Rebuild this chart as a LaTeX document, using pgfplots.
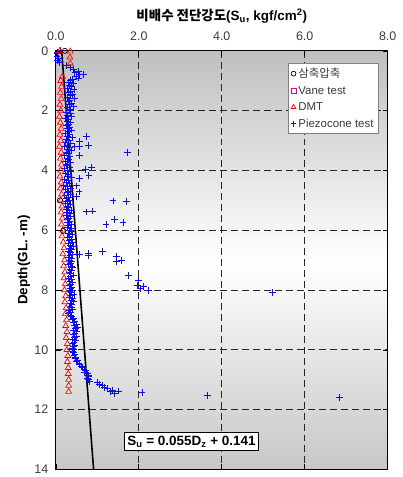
\documentclass[border=0pt]{standalone}
\usepackage{fontspec}
\setmainfont{Liberation Sans}
\newfontfamily\kr{Noto Sans CJK KR}
\usepackage{pgfplots}
\pgfplotsset{compat=1.18}
\usepackage{pgfplotstable}

\definecolor{tickgray}{RGB}{60,60,60}
\definecolor{ptblue}{RGB}{10,10,255}

% depth vs. Su, piezocone
\pgfplotstableread{
su d
0.12 0.00
0.04 0.05
0.05 0.10
0.03 0.18
0.06 0.25
0.05 0.32
0.08 0.40
0.25 0.50
0.35 0.55
0.42 0.63
0.55 0.68
0.46 0.74
0.66 0.80
0.58 0.80
0.50 0.86
0.54 0.91
0.40 0.95
0.36 1.00
0.30 1.05
0.42 1.10
0.33 1.15
0.38 1.20
0.28 1.25
0.44 1.30
0.35 1.35
0.31 1.40
0.40 1.45
0.36 1.50
0.27 1.55
0.45 1.60
0.34 1.65
0.30 1.70
0.39 1.75
0.33 1.80
0.42 1.85
0.29 1.90
0.36 1.95
0.32 2.00
0.26 2.05
0.35 2.10
0.29 2.15
0.38 2.20
0.24 2.25
0.31 2.30
0.27 2.35
0.36 2.40
0.30 2.45
0.25 2.50
0.33 2.55
0.28 2.60
0.37 2.65
0.30 2.70
0.23 2.75
0.34 2.80
0.29 2.85
0.40 2.90
0.26 2.95
0.31 3.00
0.24 3.05
0.35 3.10
0.27 3.15
0.22 3.20
0.33 3.25
0.28 3.30
0.38 3.35
0.25 3.40
0.30 3.45
0.21 3.50
0.34 3.55
0.27 3.60
0.31 3.65
0.23 3.70
0.36 3.75
0.28 3.80
0.25 3.85
0.33 3.90
0.20 3.95
0.29 4.00
0.35 4.05
0.24 4.10
0.31 4.15
0.27 4.20
0.37 4.25
0.22 4.30
0.30 4.35
0.26 4.40
0.33 4.45
0.19 4.50
0.28 4.55
0.35 4.60
0.24 4.65
0.31 4.70
0.27 4.75
0.36 4.80
0.22 4.85
0.30 4.90
0.26 4.95
0.33 5.00
0.27 5.05
0.24 5.10
0.35 5.15
0.29 5.20
0.31 5.25
0.25 5.30
0.38 5.35
0.28 5.40
0.33 5.45
0.26 5.50
0.36 5.55
0.30 5.60
0.27 5.65
0.34 5.70
0.29 5.75
0.37 5.80
0.31 5.85
0.28 5.90
0.35 5.95
0.32 6.00
0.38 6.05
0.30 6.10
0.41 6.15
0.34 6.20
0.29 6.25
0.37 6.30
0.33 6.35
0.40 6.40
0.31 6.45
0.36 6.50
0.42 6.55
0.33 6.60
0.38 6.65
0.30 6.70
0.35 6.75
0.40 6.80
0.34 6.85
0.31 6.90
0.37 6.95
0.33 7.00
0.39 7.05
0.35 7.10
0.30 7.15
0.37 7.20
0.41 7.25
0.34 7.30
0.38 7.35
0.32 7.40
0.36 7.45
0.43 7.50
0.35 7.55
0.31 7.60
0.38 7.65
0.34 7.70
0.40 7.75
0.36 7.80
0.32 7.85
0.39 7.90
0.35 7.95
0.41 8.00
0.34 8.05
0.38 8.10
0.44 8.15
0.36 8.20
0.33 8.25
0.40 8.30
0.37 8.35
0.42 8.40
0.35 8.45
0.39 8.50
0.34 8.55
0.37 8.60
0.41 8.65
0.33 8.70
0.36 8.75
0.30 8.80
0.35 8.85
0.38 8.90
0.42 8.95
0.40 9.00
0.46 9.05
0.43 9.10
0.50 9.15
0.45 9.20
0.52 9.25
0.47 9.30
0.43 9.35
0.50 9.40
0.46 9.45
0.42 9.50
0.49 9.55
0.45 9.60
0.41 9.65
0.47 9.70
0.44 9.75
0.40 9.80
0.46 9.85
0.43 9.90
0.41 9.95
0.44 10.00
0.40 10.05
0.43 10.10
0.46 10.15
0.44 10.20
0.48 10.25
0.47 10.30
0.52 10.35
0.50 10.40
0.56 10.45
0.58 10.50
0.62 10.55
0.64 10.60
0.68 10.65
0.72 10.70
0.70 10.75
0.76 10.80
0.78 10.85
0.80 10.90
0.76 10.95
0.79 11.00
0.82 11.05
1.00 11.10
1.06 11.15
1.12 11.20
1.17 11.25
1.24 11.30
1.36 11.35
1.33 11.40
1.42 11.45
1.52 11.38
2.08 11.43
3.66 11.52
6.84 11.60
0.58 3.02
0.74 2.86
0.78 3.17
0.58 3.20
0.46 3.19
1.72 3.41
0.58 3.50
0.86 3.89
0.72 3.97
0.80 4.17
0.58 4.28
0.50 4.52
0.56 4.72
0.50 4.86
1.38 5.02
1.70 5.04
0.74 5.39
0.88 5.36
1.21 5.81
1.42 5.63
1.62 5.73
0.58 6.80
0.78 6.77
0.78 6.86
1.12 6.71
1.46 6.89
1.47 7.04
1.59 7.02
1.75 7.51
2.00 7.68
1.96 7.86
2.03 7.95
2.12 7.89
2.24 8.01
5.22 8.08
}\piezo

% DMT
\pgfplotstableread{
su d
0.10 0.00
0.35 0.02
0.34 0.22
0.35 0.42
0.16 0.86
0.12 1.00
0.14 1.20
0.11 1.40
0.13 1.60
0.10 1.80
0.12 2.00
0.09 2.20
0.11 2.40
0.13 2.60
0.10 2.80
0.12 3.00
0.09 3.20
0.13 3.40
0.11 3.60
0.14 3.80
0.12 4.00
0.10 4.20
0.13 4.40
0.11 4.60
0.14 4.80
0.12 5.00
0.15 5.20
0.13 5.40
0.16 5.60
0.14 5.80
0.17 6.00
0.15 6.20
0.18 6.40
0.20 6.60
0.17 6.80
0.21 7.00
0.19 7.20
0.22 7.40
0.20 7.60
0.23 7.80
0.21 8.00
0.24 8.20
0.22 8.40
0.25 8.60
0.23 8.80
0.26 9.00
0.24 9.20
0.27 9.40
0.25 9.60
0.28 9.80
0.27 10.00
0.29 10.20
0.28 10.40
0.30 10.60
0.30 10.80
0.31 11.00
0.31 11.20
0.31 11.40
}\dmt

\begin{document}
\begin{tikzpicture}
\begin{axis}[
    scale only axis,
    width=333pt, height=420pt,
    xmin=0, xmax=8, ymin=0, ymax=14,
    y dir=reverse,
    xtick={0,2,4,6,8}, ytick={0,2,...,14},
    xticklabel pos=upper,
    tick align=inside,
    major tick length=5pt,
    tick style={black, line width=0.6pt},
    axis line style={black, line width=1pt},
    x tick label style={yshift=7pt, /pgf/number format/.cd, fixed, fixed zerofill, precision=1},
    y tick label style={xshift=-4pt, /pgf/number format/.cd, fixed, precision=0},
    /pgf/number format/assume math mode=true,
    tick label style={font=\fontsize{12.5}{14}\selectfont, text=tickgray},
    grid=major,
    major grid style={black!85, dash pattern=on 7pt off 4pt, line width=0.7pt},
    axis background/.style={shade, top color=black!25, bottom color=black!22, middle color=white},
    every axis title/.style={at={(0.5,1)}, anchor=center, yshift=35pt,
        font=\fontsize{13.5}{15}\selectfont\bfseries},
    title={{\kr\bfseries 비배수 전단강도}(S\textsubscript{u}, kgf/cm\textsuperscript{2})},
    ylabel={Depth(GL. -m)},
    ylabel style={at={(axis description cs:-0.096,0.5)}, anchor=center,
        font=\fontsize{13.5}{15}\selectfont\bfseries},
    legend style={at={(0.973,0.971)}, anchor=north east, draw=black!50,
        fill=white, font=\fontsize{11.5}{13}\selectfont, text=tickgray,
        row sep=3pt, inner sep=3pt},
    legend cell align=left,
]
\addplot[black, line width=1.6pt, forget plot] coordinates {(0.141,0) (0.911,14)};
\addplot[only marks, mark=+, mark size=3.4pt, ptblue, line width=1pt, forget plot] table[x=su, y=d] {\piezo};
\addplot[only marks, mark=triangle, mark size=3.4pt, red, line width=0.7pt, forget plot] table[x=su, y=d] {\dmt};
\addplot[only marks, mark=o, mark size=2.6pt, black, line width=0.7pt, forget plot] coordinates {(0.22,0.0) (0.10,5.0) (0.18,6.02)};

\addlegendimage{only marks, mark=o, mark size=2.4pt, black, line width=0.7pt}
\addlegendentry{{\kr 삼축압축}}
\addlegendimage{only marks, mark=square, mark size=2.4pt, magenta, line width=0.7pt}
\addlegendentry{Vane test}
\addlegendimage{only marks, mark=triangle, mark size=2.8pt, red, line width=0.7pt}
\addlegendentry{DMT}
\addlegendimage{only marks, mark=+, mark size=2.8pt, ptblue, line width=0.8pt}
\addlegendentry{Piezocone test}

\node[draw=black, fill=white, line width=0.8pt, inner sep=3pt,
    font=\fontsize{13.5}{15}\selectfont\bfseries] at (axis cs:3.27,13.07)
    {S\textsubscript{u} = 0.055D\textsubscript{z} + 0.141};
\end{axis}
\path ([shift={(-56pt,-6pt)}]current axis.south west)
    rectangle ([shift={(15pt,51pt)}]current axis.north east);
\end{tikzpicture}
\end{document}
